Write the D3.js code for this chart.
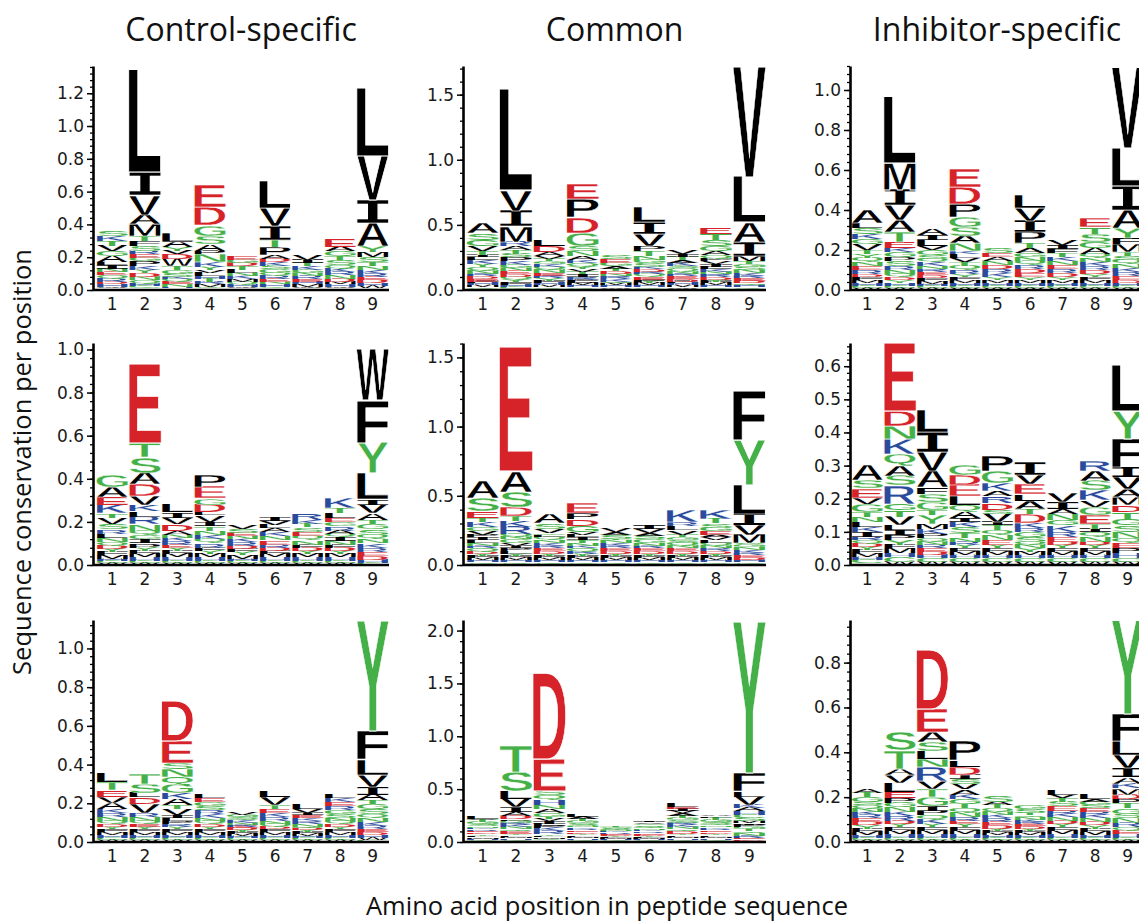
<!DOCTYPE html>
<html>
<head>
<meta charset="utf-8">
<script src="https://cdn.jsdelivr.net/npm/d3@7"></script>
<style>
  body { margin: 0; background: #fff; }
</style>
</head>
<body>
<svg id="chart" width="1139" height="923"></svg>
<script>
const positions = ['1', '2', '3', '4', '5', '6', '7', '8', '9'];
const columnTitles = ['Control-specific', 'Common', 'Inhibitor-specific'];
const yTitle = 'Sequence conservation per position';
const xTitle = 'Amino acid position in peptide sequence';

// letter stacks per position, bottom -> top, residue + height in bits
const ctrlTop = [
  "C.01 W.01 H.015 D.015 R.02 Q.02 E.02 N.02 I.02 L.02 A.035 G.03 V.035 T.03 K.03 S.035",
  "W.01 C.015 H.015 Q.02 N.02 D.025 Y.02 K.02 P.03 G.02 E.025 R.02 S.03 F.03 T.03 M.07 A.06 V.12 I.14 L.625",
  "C.01 H.01 N.015 E.015 Q.015 K.015 S.02 G.02 T.025 W.045 D.03 V.02 Y.02 A.035 L.055",
  "W.01 C.01 M.015 R.015 T.02 H.015 L.02 V.015 Y.02 K.03 N.05 P.02 A.04 S.05 G.065 D.11 E.135",
  "C.01 W.01 H.015 Q.015 M.015 K.02 N.02 L.02 T.02 D.02 G.02 E.022",
  "W.01 C.01 H.015 N.015 E.02 R.02 Q.015 G.02 S.02 K.025 D.02 A.02 P.05 T.045 I.085 V.11 L.165",
  "C.01 W.01 M.015 H.015 E.015 R.02 N.02 G.02 K.02 T.02 I.02 V.028",
  "C.01 W.01 H.015 M.015 D.02 N.02 R.02 K.02 Q.02 S.03 T.025 G.03 A.03 E.045",
  "C.01 W.015 H.015 D.02 E.02 R.02 K.025 N.02 T.025 S.03 M.03 Y.04 A.14 I.14 V.27 L.41"
];
const commonTop = [
  "W.01 C.01 M.015 H.015 F.015 E.02 D.02 R.02 N.025 Q.025 Y.025 K.03 L.02 I.02 T.03 V.035 G.05 S.05 A.08",
  "W.01 C.015 H.015 F.02 Y.02 Q.02 D.02 E.025 N.025 G.025 K.025 P.03 S.03 T.025 A.03 R.035 M.12 I.12 V.155 L.775",
  "W.01 C.01 M.015 H.015 F.02 Y.02 R.02 E.02 N.025 Q.025 K.02 G.02 T.02 V.02 A.03 D.05 L.05",
  "W.01 C.01 H.015 M.015 L.015 F.015 R.02 I.02 T.02 V.02 Y.02 Q.03 K.02 A.03 N.04 S.04 G.1 D.115 P.14 E.12",
  "C.01 W.01 H.015 M.015 Q.015 K.02 R.02 N.02 D.02 T.02 A.02 G.025 E.025 S.025",
  "W.01 C.01 H.015 M.015 Y.015 F.015 E.02 Q.02 R.02 D.02 K.02 S.025 G.025 N.03 T.04 P.04 V.09 I.09 L.115",
  "C.01 W.01 M.015 H.015 F.015 D.02 E.02 R.02 N.02 Q.02 S.02 K.025 A.02 T.025 I.02 V.03",
  "W.01 C.01 H.015 M.015 F.015 Y.015 D.02 R.02 N.02 K.02 L.02 I.02 V.02 P.02 Q.03 A.03 G.04 S.045 T.045 E.05",
  "W.01 C.01 H.015 Q.015 D.02 E.02 R.02 K.02 N.025 S.025 G.02 T.02 M.04 I.11 A.15 L.35 V.85"
];
const inhibTop = [
  "W.01 C.01 H.015 M.015 F.015 D.015 R.02 E.02 N.02 Q.02 Y.02 T.02 V.03 G.025 K.025 S.03 L.025 A.065",
  "W.01 C.01 H.015 Y.015 D.015 Q.015 N.02 R.02 S.025 P.02 G.025 K.02 E.03 T.05 A.06 V.075 I.075 M.135 L.33",
  "W.01 C.01 H.01 M.015 F.015 D.015 E.015 R.015 N.015 K.02 Q.015 S.02 G.025 V.02 L.03 I.025 A.03",
  "W.01 C.01 H.015 M.015 F.015 Y.015 R.02 Q.02 T.02 V.02 L.02 K.015 N.04 A.035 S.045 G.05 P.065 D.085 E.09",
  "W.01 C.01 H.015 M.015 Y.015 K.02 R.02 D.02 N.02 A.02 E.02 S.025",
  "W.01 C.01 H.015 M.015 Y.015 E.02 D.02 R.02 Q.02 N.02 G.02 A.025 T.025 P.055 I.055 V.065 L.065",
  "W.01 C.01 H.015 M.015 Y.015 D.02 R.02 E.02 N.02 K.02 T.02 F.02 I.02 V.025",
  "W.01 C.01 H.015 M.015 F.015 Y.015 D.02 R.02 K.02 N.02 Q.02 A.03 G.03 S.04 T.035 E.045",
  "W.01 C.01 H.015 D.015 E.02 R.02 K.02 N.02 Q.02 S.02 T.02 M.04 F.03 Y.05 A.09 I.12 L.19 V.4"
];
const ctrlMid = [
  "W.01 C.01 H.01 M.015 F.015 Y.015 D.015 Q.015 N.02 L.02 R.02 S.025 V.03 T.02 K.04 E.035 A.046 G.054",
  "W.01 C.01 H.015 M.015 F.015 Y.015 P.02 I.02 G.02 Q.02 N.03 R.035 L.025 K.03 V.04 D.054 A.054 S.075 T.065 E.37",
  "W.01 C.01 H.015 M.015 F.015 Y.015 E.015 R.015 K.015 N.015 A.02 D.03 V.03 I.025 L.035",
  "W.01 C.01 H.015 M.015 Y.015 F.015 R.02 Q.02 K.02 N.02 T.02 I.02 V.03 L.015 D.032 G.032 E.054 P.054",
  "W.01 C.01 H.01 M.015 Y.015 F.015 D.015 R.015 K.015 N.015 E.015 S.015 V.015",
  "W.01 C.01 H.015 M.015 F.015 D.015 R.015 E.02 N.02 K.02 A.015 L.015 V.02 I.02",
  "W.01 C.01 H.015 M.015 Y.015 D.015 F.015 N.02 Q.02 E.02 S.02 T.015 K.02 R.03",
  "W.01 C.01 H.015 M.015 Y.015 D.015 F.015 N.015 I.02 Q.015 A.015 R.02 G.02 E.02 L.02 T.025 K.05",
  "C.01 H.015 D.015 E.02 R.02 K.02 N.02 Q.02 S.025 G.025 T.02 A.03 V.04 I.025 L.12 Y.14 F.2 W.235"
];
const commonMid = [
  "W.01 C.01 H.015 M.015 F.015 Y.015 D.02 Q.02 R.02 N.02 L.02 I.02 P.02 V.025 G.03 K.035 T.03 E.048 S.096 A.12",
  "W.01 C.01 H.015 M.015 F.015 Y.015 L.02 P.02 I.02 V.02 G.025 N.02 Q.02 R.05 K.045 T.035 D.06 S.115 A.15 E.9",
  "W.01 C.01 H.015 M.015 F.015 Y.015 D.02 E.02 R.02 K.02 N.02 Q.02 L.02 G.01 V.03 S.04 A.065",
  "W.01 C.01 H.015 M.015 F.015 Y.015 R.02 Q.02 K.02 N.02 T.02 I.02 L.02 V.02 G.045 D.045 P.045 E.07",
  "W.01 C.01 H.015 M.015 F.015 Y.015 D.02 E.02 R.02 K.02 N.02 T.01 S.025 A.02 V.03",
  "W.01 C.01 H.015 M.015 F.015 Y.015 D.02 E.02 R.02 N.02 G.025 S.025 A.02 V.03 I.025",
  "W.01 C.01 H.015 M.015 F.015 Y.015 D.02 E.02 N.02 Q.02 S.02 G.02 T.02 V.03 L.03 R.03 K.085",
  "W.01 C.01 H.015 M.015 F.015 Y.015 D.02 R.02 N.02 Q.02 L.02 V.02 A.02 E.025 G.025 S.03 T.035 K.06",
  "W.01 C.01 H.015 D.015 E.02 R.02 K.02 N.02 G.02 S.01 M.06 V.07 I.08 L.21 Y.32 F.36"
];
const inhibMid = [
  "W.005 C.01 H.01 M.01 F.01 Y.01 D.01 Q.01 R.01 I.015 K.015 L.015 N.015 T.015 G.023 V.02 E.028 S.025 A.045",
  "W.01 C.015 H.01 M.015 F.01 Y.015 P.015 I.015 L.015 V.025 T.02 G.02 R.055 S.03 A.03 Q.035 K.045 N.04 D.046 E.206",
  "W.01 C.01 H.01 D.01 E.01 R.01 N.01 Q.01 P.015 K.015 M.015 Y.025 T.015 G.025 S.025 F.02 A.05 V.056 I.06 L.066",
  "W.01 C.01 H.01 M.01 F.01 Y.01 R.01 N.01 T.015 S.02 K.015 I.012 A.02 Q.02 L.025 E.035 D.03 G.03",
  "W.01 C.01 H.01 M.01 F.01 Y.01 E.015 N.015 Q.015 T.015 I.01 V.025 S.012 D.02 R.02 A.015 K.025 G.035 P.046",
  "W.01 C.01 H.01 M.01 Y.01 N.01 Q.01 S.015 G.015 R.013 K.015 D.025 T.015 A.025 L.02 E.03 V.03 I.04",
  "W.01 C.01 H.01 M.01 F.01 Y.01 D.01 E.015 R.015 K.02 G.015 N.02 A.015 I.02 V.025",
  "W.01 C.01 H.01 M.01 F.01 Y.01 D.01 N.015 Q.015 I.01 T.015 E.025 G.025 V.02 K.03 S.03 A.03 R.03",
  "W.01 C.01 H.015 P.015 E.015 Q.015 N.02 S.02 G.02 T.02 D.02 M.025 A.025 V.035 I.03 F.085 Y.085 L.14"
];
const ctrlBot = [
  "W.01 C.01 H.015 M.015 F.015 Y.015 D.015 Q.015 N.02 R.02 K.02 A.03 V.035 E.035 T.04 L.043",
  "W.01 C.01 H.015 M.015 F.015 Y.015 E.015 Q.015 N.02 R.02 V.045 D.035 L.025 S.045 T.05",
  "W.01 C.01 H.015 M.015 F.015 Y.015 R.015 P.015 L.015 I.015 V.03 T.02 A.03 K.03 G.045 Q.04 N.04 S.035 E.112 D.207",
  "W.01 C.01 H.015 M.015 F.015 Y.015 D.015 Q.015 N.015 K.02 R.02 S.02 G.02 E.02 L.02",
  "W.01 C.01 H.01 M.01 F.01 Y.01 D.01 E.01 R.01 N.01 K.01 Q.01 S.01 G.01 V.015",
  "W.01 C.01 H.015 M.015 F.015 D.015 Q.015 N.015 R.02 K.02 E.02 T.02 V.04 L.03",
  "W.01 C.01 H.01 M.01 F.01 Y.01 D.01 Q.01 N.015 R.015 K.015 E.015 I.01 V.02 L.025",
  "W.01 C.01 H.015 M.015 F.015 Y.015 D.015 Q.015 N.015 S.02 G.02 R.02 E.02 K.02 L.02",
  "C.01 W.01 H.015 D.015 E.015 R.02 K.02 N.02 Q.02 S.025 G.025 T.02 A.03 I.04 V.06 L.08 F.15 Y.57"
];
const commonBot = [
  "W.01 C.01 H.01 M.015 F.015 Y.015 D.015 E.015 R.015 K.015 N.015 S.02 G.02 T.02 V.01 L.02",
  "W.01 C.01 H.015 M.015 F.015 Y.015 E.02 Q.02 N.02 K.02 R.02 G.02 P.015 D.035 A.03 I.05 V.08 L.07 S.185 T.25",
  "W.015 C.015 M.015 F.015 Y.015 R.03 K.03 P.02 L.02 I.02 V.02 T.02 G.035 A.04 N.04 H.045 Q.045 S.045 E.3 D.81",
  "W.01 C.01 H.015 M.015 F.015 Y.015 D.015 E.015 R.015 K.015 N.015 S.02 G.02 T.02 A.02 L.02",
  "W.01 C.01 H.01 M.01 F.01 Y.01 D.01 E.01 R.01 K.01 N.01 Q.01 S.01 G.015 T.013",
  "W.01 C.01 H.01 M.01 F.01 Y.01 D.01 E.015 R.015 K.015 N.015 Q.015 S.015 G.015 V.015 I.01",
  "W.01 C.01 H.015 M.015 F.015 Y.015 D.02 Q.02 N.02 K.02 R.02 S.025 G.025 T.02 A.02 V.025 I.02 E.02 L.03",
  "W.01 C.01 H.015 M.015 F.015 Y.015 D.015 E.015 R.015 K.015 N.015 Q.015 S.02 G.02 T.02 L.015 A.015",
  "W.01 D.015 E.015 R.02 N.02 Q.02 T.02 G.025 P.02 I.015 M.02 S.03 C.03 H.03 A.03 K.03 V.08 L.05 F.17 Y1.43"
];
const inhibBot = [
  "W.01 C.01 H.01 M.015 F.015 Y.015 D.015 E.015 R.015 K.015 N.015 Q.015 S.015 G.02 T.02 A.015",
  "W.01 C.01 H.015 M.015 F.015 Y.015 D.015 R.02 K.02 N.02 G.02 P.02 E.03 L.037 V.035 A.03 T.08 S.082",
  "W.01 C.01 H.015 M.015 F.015 Y.015 K.02 Q.02 P.02 I.02 G.04 T.035 V.035 R.065 N.035 L.035 S.04 A.045 E.105 D.26",
  "W.01 C.01 H.015 M.015 F.015 Y.015 E.015 R.015 N.02 Q.02 T.02 G.02 K.02 A.025 V.025 S.02 I.02 D.035 L.03 P.085",
  "W.01 C.01 H.01 M.01 F.01 Y.01 D.015 E.015 R.015 K.015 N.015 Q.015 T.015 A.015 S.03",
  "W.01 C.01 H.01 M.01 F.01 Y.01 D.01 E.01 R.01 K.01 N.01 Q.01 T.01 S.015 G.015",
  "W.01 C.01 H.015 M.015 F.015 Y.015 D.015 N.015 K.015 R.015 E.02 S.02 T.015 V.015 L.02",
  "W.01 C.01 H.01 M.015 F.015 Y.015 D.015 N.015 K.015 R.015 E.015 S.015 G.015 A.01 L.02",
  "W.01 C.01 H.015 E.015 Q.015 R.02 N.02 S.02 G.025 T.025 P.015 D.02 M.03 K.02 A.03 I.04 V.06 L.06 F.12 Y.415"
];

// y-axis top value and tick step per panel (rows x columns)
const yMaxes = [[1.366, 1.72, 1.12], [1.03, 1.604, 0.67], [1.147, 2.1, 0.99]];
const yTickSteps = [[0.2, 0.5, 0.2], [0.2, 0.5, 0.1], [0.2, 0.5, 0.2]];

const panels = [ctrlTop, commonTop, inhibTop, ctrlMid, commonMid, inhibMid, ctrlBot, commonBot, inhibBot];

// layout
const axisX = [93, 463, 850];
const colX = [[96, 389], [466, 766], [851, 1144]];
const rowY = [[66, 290], [343, 565], [620, 842]];

const residueColor = aa => {
  if ('DE'.includes(aa)) return '#d62229';
  if ('KRH'.includes(aa)) return '#2a4a9c';
  if ('GSTYCNQ'.includes(aa)) return '#45b048';
  return '#000';
};

// the logo "I" carries serifs, so take it from a slab-style face
const glyphFamily = aa => aa === 'I' ? 'DejaVu Sans Mono' : 'Liberation Sans';

const parseStack = s => s.split(' ').map(t => ({ aa: t[0], bits: +t.slice(1) }));

// glyph ink boxes, so each letter can be stretched to its cell
const measure = document.createElement('canvas').getContext('2d');
const boxes = {};
const glyphBox = aa => {
  if (!boxes[aa]) {
    measure.font = `bold 100px "${glyphFamily(aa)}"`;
    const m = measure.measureText(aa);
    boxes[aa] = { l: m.actualBoundingBoxLeft, r: m.actualBoundingBoxRight,
                  a: m.actualBoundingBoxAscent, d: m.actualBoundingBoxDescent };
  }
  return boxes[aa];
};

const svg = d3.select('#chart');
const labelFont = '"DejaVu Sans", sans-serif';

panels.forEach((stacks, k) => {
  const row = Math.floor(k / 3), col = k % 3;
  const yMax = yMaxes[row][col], step = yTickSteps[row][col];
  const x = d3.scaleBand().domain(positions).range(colX[col]);
  const y = d3.scaleLinear().domain([0, yMax]).range([rowY[row][1], rowY[row][0]]);
  const g = svg.append('g');

  const cells = [];
  stacks.forEach((s, i) => {
    let base = 0;
    parseStack(s).forEach(r => {
      cells.push({ pos: positions[i], aa: r.aa, lo: base, hi: base + r.bits });
      base += r.bits;
    });
  });

  g.selectAll('text.res').data(cells).enter().append('text')
    .attr('class', 'res')
    .attr('font-family', d => `"${glyphFamily(d.aa)}", sans-serif`)
    .attr('font-weight', 'bold')
    .attr('font-size', 100)
    .attr('fill', d => residueColor(d.aa))
    .attr('stroke', '#fff')
    .attr('stroke-width', 0.9)
    .attr('vector-effect', 'non-scaling-stroke')
    .attr('transform', d => {
      const b = glyphBox(d.aa);
      const w = x.bandwidth(), h = y(d.lo) - y(d.hi);
      return `translate(${x(d.pos)},${y(d.hi)}) scale(${w / (b.l + b.r)},${h / (b.a + b.d)}) translate(${b.l},${b.a})`;
    })
    .text(d => d.aa);

  // y axis: major + minor ticks
  const major = d3.range(0, yMax + 1e-9, step);
  const minor = d3.range(0, yMax, step / 5);
  const ay = svg.append('g').attr('transform', `translate(${axisX[col]},0)`);
  ay.append('g')
    .call(d3.axisLeft(y).tickValues(minor).tickFormat('').tickSize(3).tickSizeOuter(0))
    .call(a => a.select('.domain').remove())
    .call(a => a.selectAll('line').attr('stroke-width', 1.3));
  ay.append('g')
    .call(d3.axisLeft(y).tickValues(major).tickFormat(d3.format('.1f')).tickSize(6).tickSizeOuter(0).tickPadding(3))
    .call(a => a.select('.domain').attr('stroke-width', 2.6))
    .call(a => a.selectAll('line').attr('stroke-width', 1.5))
    .call(a => a.selectAll('text').attr('font-family', labelFont).attr('font-size', 17).attr('fill', '#1a1a1a'));

  // x axis
  svg.append('g')
    .attr('transform', `translate(0,${y(0)})`)
    .call(d3.axisBottom(x).tickSize(0).tickPadding(8))
    .call(a => a.select('.domain').attr('d', `M${axisX[col]},0H${colX[col][1]}`).attr('stroke-width', 2.6))
    .call(a => a.selectAll('text').attr('font-family', labelFont).attr('font-size', 17).attr('fill', '#1a1a1a'));
});

// column titles
svg.selectAll('text.title').data(columnTitles).enter().append('text')
  .attr('class', 'title')
  .attr('x', (d, i) => (axisX[i] + colX[i][1]) / 2)
  .attr('y', 41)
  .attr('text-anchor', 'middle')
  .attr('font-family', '"Open Sans", sans-serif')
  .attr('font-size', 32)
  .attr('fill', '#111')
  .text(d => d);

svg.append('text')
  .attr('transform', 'translate(31,462) rotate(-90)')
  .attr('text-anchor', 'middle')
  .attr('font-family', '"Open Sans", sans-serif')
  .attr('font-size', 25.5)
  .attr('fill', '#111')
  .text(yTitle);

svg.append('text')
  .attr('x', 607)
  .attr('y', 915)
  .attr('text-anchor', 'middle')
  .attr('font-family', '"Open Sans", sans-serif')
  .attr('font-size', 25.5)
  .attr('fill', '#111')
  .text(xTitle);
</script>
</body>
</html>
